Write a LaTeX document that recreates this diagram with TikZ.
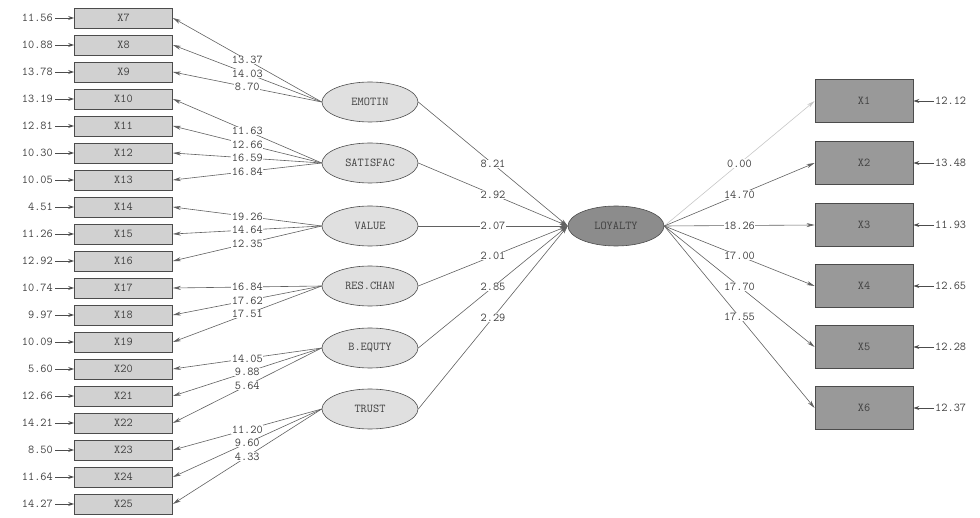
\documentclass[tikz,border=0pt]{standalone}
\usepackage{fontspec}
\usetikzlibrary{arrows.meta,shapes.geometric}
\newcommand{\lisfont}{\ttfamily\addfontfeatures{LetterSpace=16}\fontsize{12}{13}\selectfont}
\begin{document}
\begin{tikzpicture}[x=1pt,y=-1pt,
  every node/.style={font=\lisfont, text=black!75},
  obs/.style={draw=black!70, fill=black!18, minimum width=98pt, minimum height=20pt, inner sep=0pt, line width=0.8pt},
  obsr/.style={draw=black!70, fill=black!40, minimum width=98pt, minimum height=43pt, inner sep=0pt, line width=0.8pt},
  lat/.style={ellipse, draw=black!70, fill=black!12, minimum width=96pt, minimum height=40pt, inner sep=0pt, line width=0.6pt},
  latd/.style={lat, fill=black!45},
  lab/.style={fill=white, inner sep=0.5pt},
  ld/.style={draw=black!62, line width=0.6pt, -{Stealth[length=8pt,width=4pt]}},
  ldf/.style={ld, draw=black!22},
  err/.style={draw=black!70, line width=0.9pt, -{Stealth[length=6pt,width=4pt]}}
]
\useasboundingbox (0,0) rectangle (980,518);
% left indicators with error terms
\foreach \n/\e [count=\i from 0] in {7/11.56, 8/10.88, 9/13.78, 10/13.19, 11/12.81, 12/10.30, 13/10.05, 14/4.51, 15/11.26, 16/12.92, 17/10.74, 18/9.97, 19/10.09, 20/5.60, 21/12.66, 22/14.21, 23/8.50, 24/11.64, 25/14.27} {
  \node[obs] (x\n) at (123.5, {18+27*\i}) {X\n};
  \node[anchor=east, inner sep=0pt] (e\n) at (53, {18+27*\i}) {\e};
  \draw[err, shorten <=2pt] (e\n.east) -- (x\n.west);
}
% latent exogenous
\node[lat] (emotin) at (370,102) {EMOTIN};
\node[lat] (satisfac) at (370,163) {SATISFAC};
\node[lat] (value) at (370,226) {VALUE};
\node[lat] (reschan) at (370,286) {RES.CHAN};
\node[lat] (bequty) at (370,348) {B.EQUTY};
\node[lat] (trust) at (370,409) {TRUST};
% endogenous
\node[latd] (loyalty) at (616,226) {LOYALTY};
% loadings
\foreach \l/\n/\v in {emotin/7/13.37, emotin/8/14.03, emotin/9/8.70,
  satisfac/10/11.63, satisfac/11/12.66, satisfac/12/16.59, satisfac/13/16.84,
  value/14/19.26, value/15/14.64, value/16/12.35,
  reschan/17/16.84, reschan/18/17.62, reschan/19/17.51,
  bequty/20/14.05, bequty/21/9.88, bequty/22/5.64,
  trust/23/11.20, trust/24/9.60, trust/25/4.33} {
  \draw[ld] (\l.west) -- node[lab] {\v} (x\n.east);
}
% structural paths
\foreach \l/\v in {emotin/8.21, satisfac/2.92, value/2.07, reschan/2.01, bequty/2.85, trust/2.29} {
  \draw[ld] (\l.east) -- node[lab] {\v} (loyalty.west);
}
% right indicators
\foreach \n/\y/\e in {1/101/12.12, 2/163/13.48, 3/225/11.93, 4/286/12.65, 5/347/12.28, 6/408/12.37} {
  \node[obsr] (y\n) at (864,\y) {X\n};
  \node[anchor=west, inner sep=0pt] (f\n) at (935,\y) {\e};
  \draw[err, shorten <=1pt] (f\n.west) -- (y\n.east);
}
\draw[ldf] (loyalty.east) -- node[lab] {0.00} (y1.west);
\foreach \n/\v in {2/14.70, 3/18.26, 4/17.00, 5/17.70, 6/17.55} {
  \draw[ld] (loyalty.east) -- node[lab] {\v} (y\n.west);
}
\end{tikzpicture}
\end{document}
